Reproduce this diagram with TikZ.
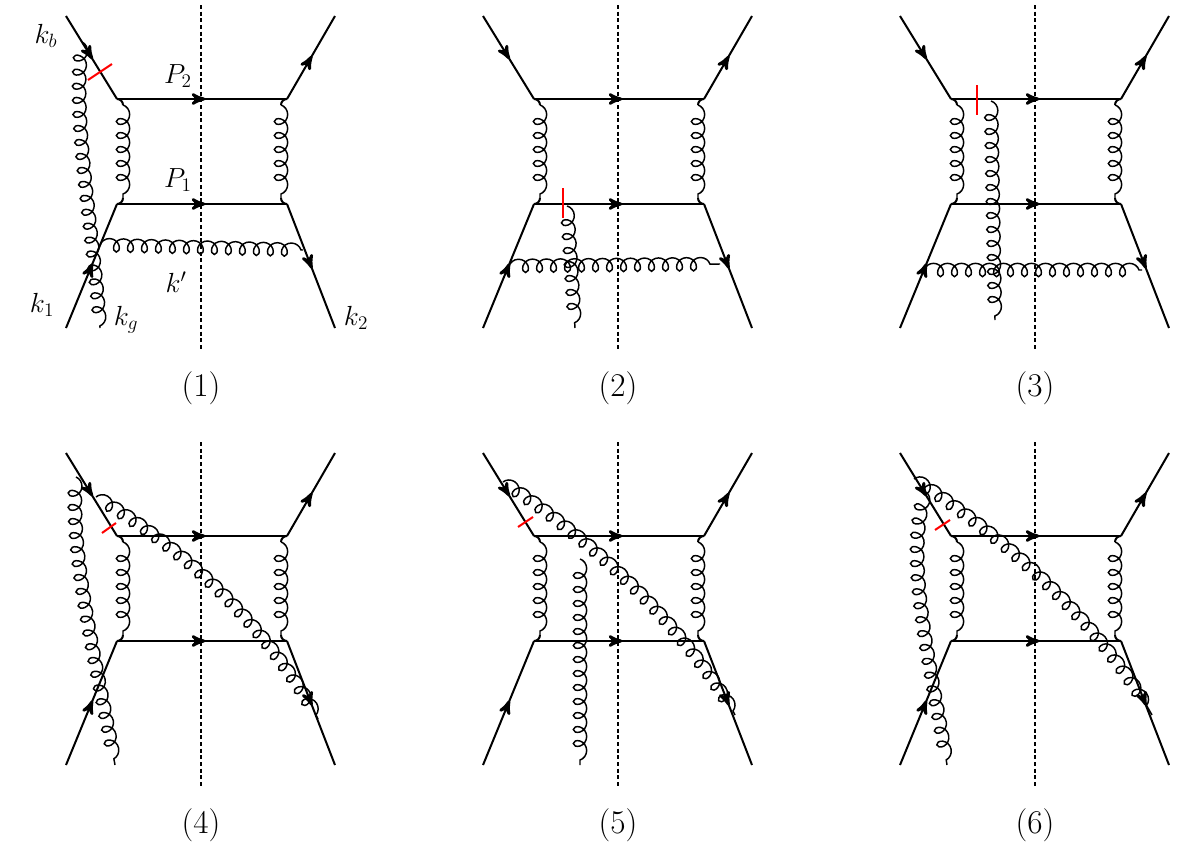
\documentclass[tikz,border=0pt]{standalone}
\usepackage{amsmath}
\usetikzlibrary{arrows,calc,decorations.pathmorphing,decorations.markings}

% common box of every panel
\newcommand{\feynbox}[1]{%
  \coordinate (a) at (66,16);   \coordinate (A) at (117,99);
  \coordinate (B) at (287,99);  \coordinate (b) at (335,16);
  \coordinate (C) at (287,204); \coordinate (c) at (335,328);
  \coordinate (D) at (117,204); \coordinate (d) at (66,328);
  \draw[cut] (201,5) -- (201,350);
  \draw[fermion] (a) -- (A);
  \draw[fermion] (A) -- (B);
  \draw[fermion] (B) -- (b);
  \draw[fermion] (D) -- (C);
  \draw[fermion] (C) -- (c);
  \draw[fermion] (d) -- (D);
  \draw[gluon] ($(A)+(6,6)$) -- ($(D)+(6,-6)$);
  \draw[gluon] ($(B)+(-6,6)$) -- ($(C)+(-6,-6)$);
  \draw[line] (A) to[out=0,in=90] ($(A)+(6,6)$);
  \draw[line] (D) to[out=0,in=-90] ($(D)+(6,-6)$);
  \draw[line] (B) to[out=180,in=90] ($(B)+(-6,6)$);
  \draw[line] (C) to[out=180,in=-90] ($(C)+(-6,-6)$);
  \node[lab] (n) at (201,388) {(#1)};
}

\begin{document}
\begin{tikzpicture}[x=0.75pt,y=-0.75pt,>=stealth', semithick]
  \tikzstyle{line}=[line width=1.5pt]
  \tikzstyle{fermion}=[line, postaction={decorate},
    decoration={markings, mark=at position 0.52 with {\arrow[scale=1.4]{>}}}]
  \tikzstyle{gluon}=[line width=1.1pt, decorate,
    decoration={coil, aspect=0.9, amplitude=5pt, segment length=10.5pt}]
  \tikzstyle{cut}=[dashed, line width=1pt, dash pattern=on 3pt off 2pt]
  \tikzstyle{tick}=[draw=red, line width=1.5pt]
  \tikzstyle{lab}=[font=\Huge]
  \tikzstyle{mom}=[font=\huge]
  \useasboundingbox (0,0) rectangle (1181,850);

  % (1)
  \begin{scope}
    \feynbox{1}
    \draw[gluon] (82,42) .. controls (72,120) and (92,220) .. (100,328);
    \draw[gluon] (100,245) -- (303,250);
    \draw[tick] (88,80) -- (112,64);
    \node[mom] (kb) at (46,36) {$k_b$};
    \node[mom] (p2) at (178,76) {$P_2$};
    \node[mom] (p1) at (178,180) {$P_1$};
    \node[mom] (kp) at (176,282) {$k'$};
    \node[mom] (k1) at (42,305) {$k_1$};
    \node[mom] (kg) at (126,320) {$k_g$};
    \node[mom] (k2) at (356,318) {$k_2$};
  \end{scope}

  % (2)
  \begin{scope}[shift={(417,0)}]
    \feynbox{2}
    \draw[gluon] (150,206) -- (158,328);
    \draw[gluon] (92,266) -- (303,264);
    \draw[tick] (146,188) -- (146,218);
  \end{scope}

  % (3)
  \begin{scope}[shift={(834,0)}]
    \feynbox{3}
    \draw[gluon] (157,101) -- (161,320);
    \draw[gluon] (90,270) -- (308,270);
    \draw[tick] (143,85) -- (143,115);
  \end{scope}

  % (4)
  \begin{scope}[shift={(0,437)}]
    \feynbox{4}
    \draw[gluon] (76,40) .. controls (70,120) and (95,220) .. (115,328);
    \draw[gluon] (96,60) .. controls (180,110) and (260,180) .. (318,282);
    \draw[tick] (102,96) -- (116,86);
  \end{scope}

  % (5)
  \begin{scope}[shift={(417,437)}]
    \feynbox{5}
    \draw[gluon] (86,45) .. controls (170,100) and (260,180) .. (318,278);
    \draw[gluon] (163,122) -- (163,328);
    \draw[tick] (101,90) -- (116,80);
  \end{scope}

  % (6)
  \begin{scope}[shift={(834,437)}]
    \feynbox{6}
    \draw[gluon] (80,42) .. controls (170,100) and (260,180) .. (318,278);
    \draw[gluon] (92,55) .. controls (70,120) and (95,220) .. (113,328);
    \draw[tick] (101,93) -- (116,83);
  \end{scope}
\end{tikzpicture}
\end{document}
